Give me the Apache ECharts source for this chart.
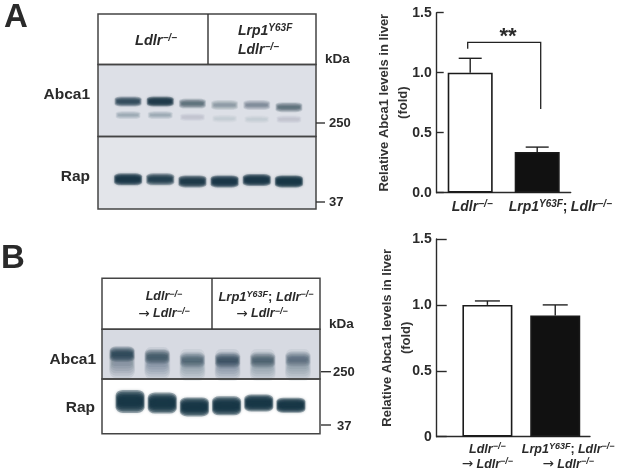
<!DOCTYPE html>
<html><head><meta charset="utf-8">
<style>html,body{margin:0;padding:0;background:#fff}#c{width:617px;height:474px}</style>
<script src="https://cdn.jsdelivr.net/npm/echarts@6/dist/echarts.min.js"></script>
</head><body><div id="c"></div>
<script>
// ---- chart data ----
const categoriesA = ['Ldlr', 'Lrp1'];
const valuesA = [1.0, 0.34];
const errorTopA = [1.12, 0.38];
const bracketA = [[0, 1.2], [0, 1.253], [1, 1.253], [1, 0.697]];
const categoriesB = ['Ldlr', 'Lrp1'];
const valuesB = [1.0, 0.92];
const errorTopB = [1.03, 1.0];
const yTicksA = ['0.0', '0.5', '1.0', '1.5'];
const yTicksB = ['0', '0.5', '1.0', '1.5'];
// blot band darkness (0-1) per lane, and migration (% of panel height)
const lanes = ['1', '2', '3', '4', '5', '6'];
const aAbcaUpper = [0.85, 0.95, 0.65, 0.42, 0.5, 0.65];
const aAbcaUpperPos = [51, 51, 54, 56, 56, 59];
const aAbcaLower = [0.35, 0.35, 0.16, 0.12, 0.12, 0.16];
const aAbcaLowerPos = [70, 70, 73, 75, 76, 76];
const aRap = [0.97, 0.92, 0.95, 0.97, 0.97, 0.98];
const aRapPos = [59, 59, 62, 62, 60, 62];
const bAbcaCore = [0.8, 0.65, 0.55, 0.68, 0.6, 0.5];
const bAbcaCorePos = [50, 55, 62, 62, 62, 60];
const bAbcaSmear = [0.42, 0.4, 0.36, 0.4, 0.36, 0.36];
const bAbcaSmearPos = [66, 68, 72, 72, 72, 72];
const bRap = [0.98, 0.98, 0.98, 0.98, 0.98, 0.98];
const bRapPos = [41, 44, 51, 49, 44, 48];

// ---- layout ----
const F = '"Liberation Sans", Arial, sans-serif';
const INK = '#2a2a2a';
const rich = s => ({
  i: {fontFamily: F, fontWeight: 'bold', fontStyle: 'italic', fontSize: s, fill: INK, color: INK},
  u: {fontFamily: F, fontWeight: 'bold', fontStyle: 'italic', fontSize: Math.round(s * 0.68), fill: INK, color: INK, verticalAlign: 'top', lineHeight: s + 1},
  n: {fontFamily: F, fontWeight: 'bold', fontSize: s, fill: INK, color: INK},
  a: {fontFamily: '"DejaVu Sans"', fontSize: s + 1, fill: INK, color: INK}
});
const LD = '{i|Ldlr}{u|−/−}';
const LRP = '{i|Lrp1}{u|Y63F}';
const ARROW = '{a|→}{n| }';

const chart = echarts.init(document.getElementById('c'), null, {renderer: 'canvas'});

const grids = [
  {left: 436.7, top: 12.7, width: 134, height: 180},        // 0 bars A
  {left: 436.7, top: 239, width: 153.3, height: 197.7},     // 1 axes B
  {left: 453.5, top: 239, width: 138, height: 197.7},       // 2 bars B
  {left: 112, top: 65, width: 193, height: 71.5},           // 3 A Abca1
  {left: 112, top: 136.5, width: 193, height: 72.5},        // 4 A Rap
  {left: 104.5, top: 329.3, width: 211, height: 49.7},      // 5 B Abca1
  {left: 114, top: 379, width: 193, height: 54.7}           // 6 B Rap
];
const hiddenX = i => ({type: 'category', gridIndex: i, data: lanes, show: false});
const hiddenY = i => ({type: 'value', gridIndex: i, min: 0, max: 100, inverse: true, show: false});
const ax = {lineStyle: {color: INK, width: 1.4}};
const yName = 'Relative Abca1 levels in liver\n(fold)';
const yAxisStyle = (i, ticks, tickLen, fs, gap) => ({
  type: 'value', gridIndex: i, min: 0, max: 1.5, interval: 0.5,
  axisLine: {show: true, ...ax}, splitLine: {show: false},
  axisTick: {show: true, inside: true, length: tickLen, ...ax},
  axisLabel: {fontFamily: F, fontWeight: 'bold', fontSize: fs, color: INK, margin: 5,
    formatter: v => ticks[Math.round(v / 0.5)]},
  name: yName, nameLocation: 'middle', nameRotate: 90, nameGap: gap, nameMoveOverlap: false,
  nameTextStyle: {fontFamily: F, fontWeight: 'bold', fontSize: 13, color: '#333', lineHeight: 19}
});

const xAxis = [
  {type: 'category', gridIndex: 0, data: [
      {value: categoriesA[0], textStyle: {padding: [0, 0, 0, 4]}},
      {value: categoriesA[1], textStyle: {padding: [0, 0, 0, 46]}}],
    axisLine: ax, axisTick: {show: false},
    axisLabel: {interval: 0, margin: 7, rich: rich(14),
      formatter: v => v === 'Ldlr' ? LD : LRP + '{n|;} ' + LD}},
  {type: 'category', gridIndex: 1, data: [], axisLine: ax, axisTick: {show: false}, axisLabel: {show: false}},
  {type: 'category', gridIndex: 2, data: [
      {value: categoriesB[0], textStyle: {padding: [0, 0, 0, 0]}},
      {value: categoriesB[1], textStyle: {padding: [0, 0, 0, 26]}}],
    axisLine: {show: false}, axisTick: {show: false},
    axisLabel: {interval: 0, margin: 5, lineHeight: 15, rich: rich(12.5),
      formatter: v => v === 'Ldlr' ? LD + '\n' + ARROW + LD : LRP + '{n|;} ' + LD + '\n' + ARROW + LD}},
  hiddenX(3), hiddenX(4), hiddenX(5), hiddenX(6)
];
const yAxis = [
  yAxisStyle(0, yTicksA, 7, 14, 24),
  yAxisStyle(1, yTicksB, 10, 14, 21),
  {type: 'value', gridIndex: 2, min: 0, max: 1.5, show: false},
  hiddenY(3), hiddenY(4), hiddenY(5), hiddenY(6)
];

const barSeries = (i, vals, w) => ({
  type: 'bar', xAxisIndex: i, yAxisIndex: i, barWidth: w, z: 3,
  data: vals.map((v, k) => ({value: v, itemStyle: {
    color: k === 0 ? '#fff' : '#111', borderColor: '#1a1a1a', borderWidth: 1.6}})),
  animation: false
});
const errSeries = (i, vals, tops, cap) => ({
  type: 'custom', xAxisIndex: i, yAxisIndex: i, z: 2, animation: false,
  data: vals.map((v, k) => [k, v, tops[k]]),
  encode: {x: 0, y: [1, 2]},
  renderItem: (p, api) => {
    const a = api.coord([api.value(0), api.value(1)]);
    const b = api.coord([api.value(0), api.value(2)]);
    const st = {stroke: '#222', lineWidth: 1.4, fill: null};
    return {type: 'group', children: [
      {type: 'line', shape: {x1: a[0], y1: a[1], x2: b[0], y2: b[1]}, style: st},
      {type: 'line', shape: {x1: b[0] - cap / 2, y1: b[1], x2: b[0] + cap / 2, y2: b[1]}, style: st}
    ]};
  }
});
const bracket = {
  type: 'custom', xAxisIndex: 0, yAxisIndex: 0, z: 4, animation: false,
  coordinateSystem: 'cartesian2d',
  data: bracketA, encode: {x: 0, y: 1},
  renderItem: (p, api) => {
    if (p.dataIndex !== 0) return null;
    const pts = bracketA.map(d => api.coord(d));
    pts[0][0] -= 2.5; pts[1][0] -= 2.5; pts[2][0] += 3.5; pts[3][0] += 3.5;
    return {type: 'polyline', shape: {points: pts}, style: {stroke: '#222', lineWidth: 1.3, fill: null}};
  }
};

// each blot band is a stack of soft translucent layers: wide and pale outside, narrow and dark inside
const BLOT = '22,52,68';
const LAYERS = [1, 0.85, 0.7, 0.55, 0.4, 0.25];
const band = (grid, dark, pos, w, h) => LAYERS.map(t => ({
  type: 'scatter', xAxisIndex: grid, yAxisIndex: grid, z: 2, animation: false, clip: false, silent: true,
  symbol: 'roundRect',
  symbolSize: (v, p) => [w * (0.72 + 0.28 * t), (Array.isArray(h) ? h[p.dataIndex] : h) * t],
  data: dark.map((d, k) => {
    const a = 1 - Math.pow(1 - d, 1 / LAYERS.length);
    return {value: [k, pos[k]], itemStyle: {color: `rgba(${BLOT},${a})`, shadowColor: `rgba(${BLOT},${a})`, shadowBlur: 3}};
  })
}));
const series = [
  barSeries(0, valuesA, 45), errSeries(0, valuesA, errorTopA, 23), bracket,
  barSeries(2, valuesB, 50), errSeries(2, valuesB, errorTopB, 25),
  ...band(3, aAbcaLower, aAbcaLowerPos, 25, 8),
  ...band(3, aAbcaUpper, aAbcaUpperPos, 27, 10),
  ...band(4, aRap, aRapPos, 28, 12),
  ...band(5, bAbcaSmear, bAbcaSmearPos, 26, 32),
  ...band(5, bAbcaCore, bAbcaCorePos, 25, 15),
  ...band(6, bRap, bRapPos, 29, [23, 21, 19, 19, 17, 15])
];

// panels, frames and plain labels
const txt = (x, y, text, fs, align) => ({type: 'text', x, y, z: 20, style: {
  text, fontFamily: F, fontWeight: 'bold', fontSize: fs, fill: INK,
  align: align || 'left', verticalAlign: 'middle'}});
const rtxt = (x, y, text, fs, align) => ({type: 'text', x, y, z: 20, style: {
  text, rich: rich(fs), fontFamily: F, fontSize: fs, fill: INK, align: align || 'center', verticalAlign: 'middle'}});
const fill = (x, y, w, h, c) => ({type: 'rect', z: -1, shape: {x, y, width: w, height: h}, style: {fill: c}});
const fr = (x, y, w, h) => ({type: 'rect', z: 15, shape: {x, y, width: w, height: h}, style: {fill: null, stroke: '#444', lineWidth: 1.5}});
const ln = (x1, y1, x2, y2) => ({type: 'line', z: 15, shape: {x1, y1, x2, y2}, style: {stroke: '#333', lineWidth: 1.4}});

const graphic = [
  txt(4, 18, 'A', 33), txt(1, 259, 'B', 33),
  // A blot
  fill(98, 65, 218, 71.5, '#dde0e7'), fill(98, 136.5, 218, 72.5, '#e3e5ea'),
  fr(98, 14, 218, 50.5), fr(98, 64.5, 218, 72), fr(98, 136.5, 218, 72.5), ln(208, 14, 208, 64),
  rtxt(156, 41, LD, 14.5), rtxt(238, 31, LRP, 14, 'left'), rtxt(238, 50, LD, 14, 'left'),
  txt(90, 95, 'Abca1', 15.5, 'right'), txt(90, 177, 'Rap', 15.5, 'right'),
  txt(325, 59, 'kDa', 13.5), ln(316, 123, 325, 123), txt(329, 123, '250', 13), ln(316, 202, 325, 202), txt(329, 202, '37', 13),
  txt(508, 37, '**', 22, 'center'),
  // B blot
  fill(102, 329.3, 218, 49.7, '#d7dae2'),
  fr(102, 278.3, 218, 51), fr(102, 329.3, 218, 49.7), fr(102, 379, 218, 54.7), ln(212, 278.3, 212, 329),
  rtxt(164, 297, LD, 12.5), rtxt(164, 314, ARROW + LD, 12.5),
  rtxt(266, 297, LRP + '{n|;} ' + LD, 13), rtxt(262, 314, ARROW + LD, 12.5),
  txt(96, 360, 'Abca1', 15.5, 'right'), txt(95, 408, 'Rap', 15.5, 'right'),
  txt(329, 324, 'kDa', 13.5), ln(321, 371.7, 331, 371.7), txt(333, 372, '250', 13), ln(321, 425, 331, 425), txt(337, 426, '37', 13)
];

chart.setOption({backgroundColor: '#fff', animation: false, grid: grids, xAxis, yAxis, series, graphic});
</script></body></html>
